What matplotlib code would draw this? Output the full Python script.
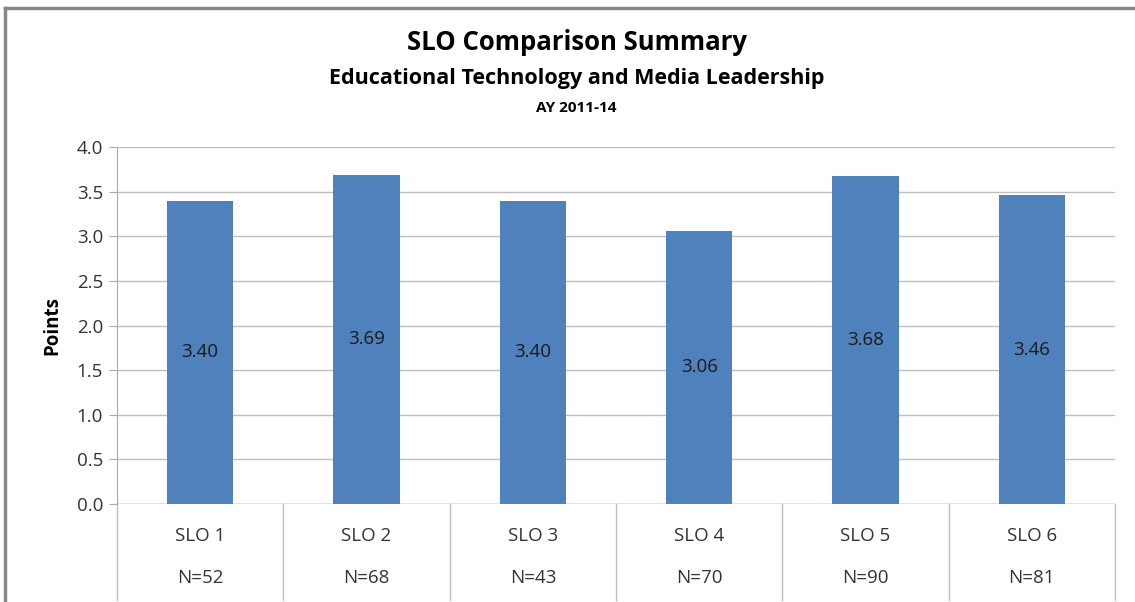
import matplotlib.pyplot as plt
import matplotlib.transforms as mtransforms
from matplotlib.lines import Line2D

# data
categories = ["SLO 1", "SLO 2", "SLO 3", "SLO 4", "SLO 5", "SLO 6"]
counts = ["N=52", "N=68", "N=43", "N=70", "N=90", "N=81"]
points = [3.40, 3.69, 3.40, 3.06, 3.68, 3.46]

plt.rcParams["font.family"] = ["Open Sans", "DejaVu Sans"]

fig = plt.figure(figsize=(11.35, 6.02), dpi=100)
ax = fig.add_axes([0.1031, 0.1628, 0.8793, 0.593])

x = list(range(len(categories)))
ax.bar(x, points, width=0.4, color="#4F81BD", zorder=3)
for xi, v in zip(x, points):
    ax.text(xi, v / 2, f"{v:.2f}", ha="center", va="center", fontsize=13.5, color="#1a1a1a", zorder=4)

ax.set_xlim(-0.5, len(categories) - 0.5)
ax.set_ylim(0, 4.0)
ax.set_yticks([0.0, 0.5, 1.0, 1.5, 2.0, 2.5, 3.0, 3.5, 4.0])
ax.set_yticklabels([f"{t:.1f}" for t in ax.get_yticks()], fontsize=13.5, color="#333333")
ax.set_xticks([])
ax.yaxis.grid(True, color="#BFBFBF", linewidth=1)
ax.tick_params(axis="y", length=6, color="#AAAAAA", pad=4)
for s in ["top", "right", "bottom"]:
    ax.spines[s].set_visible(False)
ax.spines["left"].set_color("#AAAAAA")
ax.axhline(0, color="#AAAAAA", linewidth=1, zorder=2)
ax.set_ylabel("Points", fontsize=13.5, fontweight="bold", labelpad=10)

# category separators extending below the axis
trans = mtransforms.blended_transform_factory(ax.transData, ax.transAxes)
for b in [i - 0.5 for i in range(len(categories) + 1)]:
    ax.add_line(Line2D([b, b], [0, -0.27], transform=trans, color="#BFBFBF",
                       linewidth=1, clip_on=False))
for xi, c, n in zip(x, categories, counts):
    ax.text(xi, -0.09, c, transform=trans, ha="center", va="center", fontsize=13.5, color="#333333")
    ax.text(xi, -0.207, n, transform=trans, ha="center", va="center", fontsize=13.5, color="#333333")

# titles
fig.text(0.508, 0.930, "SLO Comparison Summary", ha="center", va="center", fontsize=18.5, fontweight="bold")
fig.text(0.508, 0.870, "Educational Technology and Media Leadership", ha="center", va="center",
         fontsize=15.5, fontweight="bold")
fig.text(0.508, 0.820, "AY 2011-14", ha="center", va="center", fontsize=11, fontweight="bold")

# outer chart border
fig.add_artist(Line2D([0.004, 0.004], [0.0, 0.987], transform=fig.transFigure, color="#888888", linewidth=2.5))
fig.add_artist(Line2D([0.004, 1.0], [0.987, 0.987], transform=fig.transFigure, color="#888888", linewidth=2.5))

fig.savefig("out.png", dpi=100, facecolor="white")
